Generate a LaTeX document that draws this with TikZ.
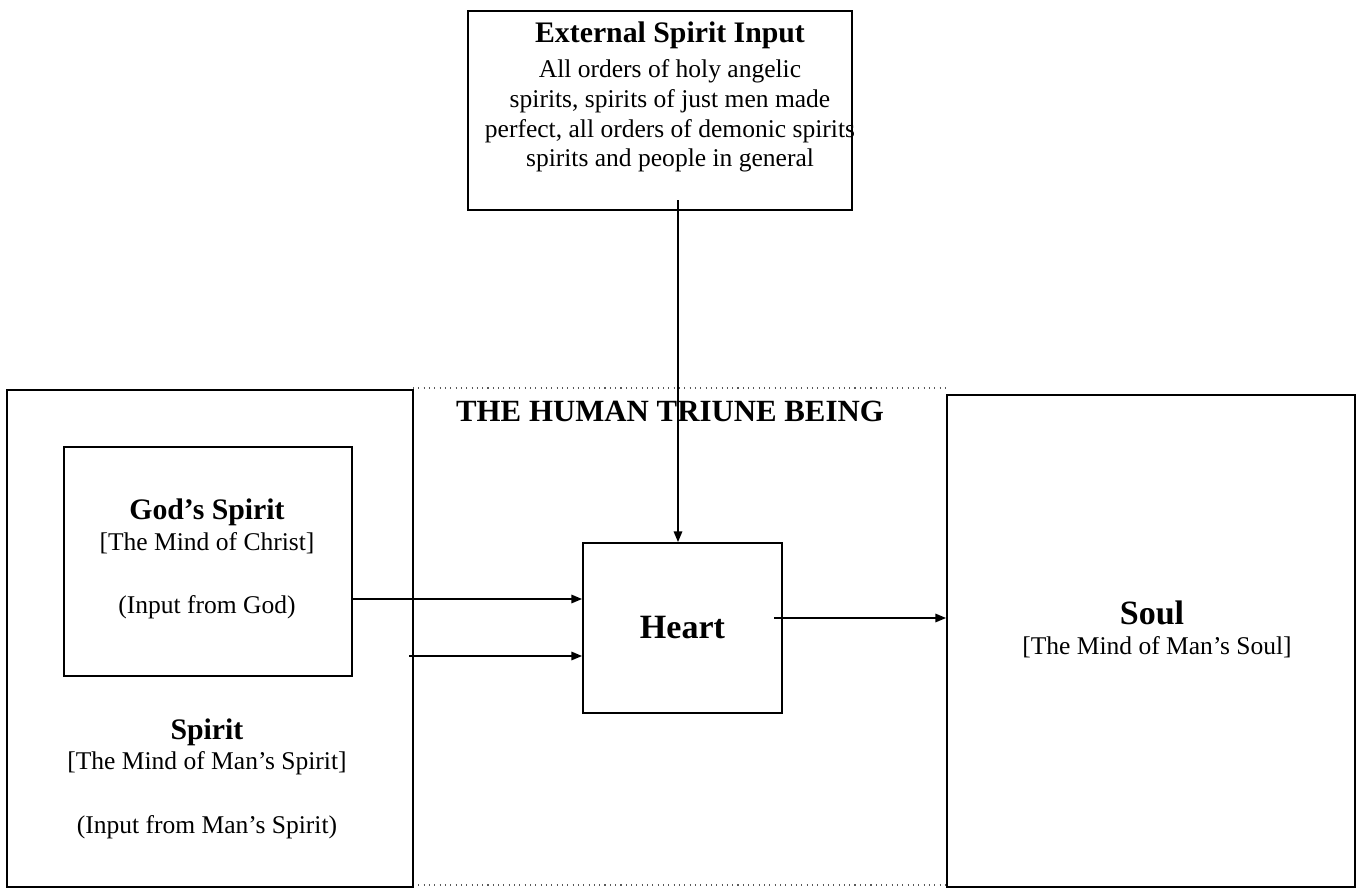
\documentclass[tikz,border=0pt]{standalone}
\usepackage{fontspec}
\setmainfont{Liberation Serif}
\usetikzlibrary{arrows.meta}
\newcommand{\pxu}{0.47pt}
\begin{document}
\begin{tikzpicture}[x=0.47pt,y=-0.47pt,
        box/.style={draw,line width=0.9pt,inner sep=0pt},
        txt/.style={inner sep=0pt,align=center,font=\fontsize{12}{14}\selectfont},
        head/.style={inner sep=0pt,font=\fontsize{14}{17}\selectfont\bfseries},
        bighead/.style={inner sep=0pt,font=\fontsize{16}{19}\selectfont\bfseries},
        arr/.style={line width=0.7pt,-{Triangle[length=5pt,width=4pt]}}]
        \useasboundingbox (0,0) rectangle (1359,889);
        \draw [black!65,dotted,line width=0.5pt] (413,388) -- (947,388);
        \draw [black!65,dotted,line width=0.5pt] (413,885) -- (947,885);
        \node (ext) [box,minimum width=384*\pxu,minimum height=199*\pxu] at (660,110.5) {};
        \node (spiritbox) [box,minimum width=406*\pxu,minimum height=497*\pxu] at (210,638.5) {};
        \node (godbox) [box,minimum width=288*\pxu,minimum height=229*\pxu] at (208,561.5) {};
        \node (heart) [box,bighead,minimum width=199*\pxu,minimum height=170*\pxu] at (682.5,628) {Heart};
        \node (soulbox) [box,minimum width=408*\pxu,minimum height=492*\pxu] at (1151,641) {};
        \node (exttitle) [head] at (670,35) {External Spirit Input};
        \node (extbody) [txt] at (670,116) {All orders of holy angelic\\
            spirits, spirits of just men made\\
            perfect, all orders of demonic spirits\\
            spirits and people in general};
        \node (being) [head,font=\fontsize{14.5}{17}\selectfont\bfseries] at (670,411) {THE HUMAN TRIUNE BEING};
        \node (godtitle) [head] at (207,512) {God’s Spirit};
        \node (godmind) [txt] at (207,543) {[The Mind of Christ]};
        \node (godinput) [txt] at (207,607) {(Input from God)};
        \node (spirittitle) [head] at (207,732) {Spirit};
        \node (spiritmind) [txt] at (207,763) {[The Mind of Man’s Spirit]};
        \node (spiritinput) [txt] at (207,827) {(Input from Man’s Spirit)};
        \node (soultitle) [bighead] at (1152,613) {Soul};
        \node (soulmind) [txt] at (1157,647) {[The Mind of Man’s Soul]};
        \coordinate (extout) at (678,200);
        \coordinate (godout) at (352,599);
        \coordinate (manout) at (409,656);
        \coordinate (heartout) at (774,618);
        \draw [arr] (extout) -- (extout |- heart.north);
        \draw [arr] (godout) -- (godout -| heart.west);
        \draw [arr] (manout) -- (manout -| heart.west);
        \draw [arr] (heartout) -- (heartout -| soulbox.west);
\end{tikzpicture}
\end{document}
